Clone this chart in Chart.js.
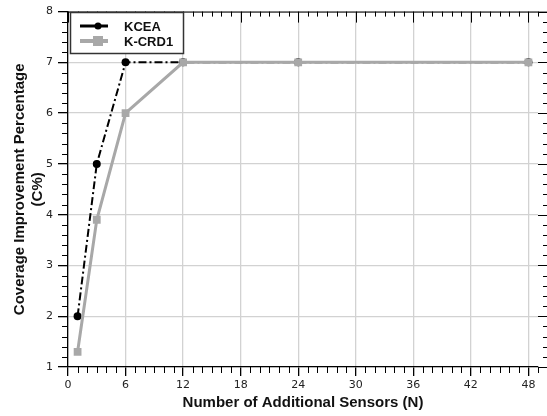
<!DOCTYPE html>
<html><head><meta charset="utf-8">
<script src="https://cdn.jsdelivr.net/npm/chart.js@4/dist/chart.umd.min.js"></script>
<style>html,body{margin:0;padding:0;background:#fff}#wrap{width:547px;height:416px}</style>
</head><body><div id="wrap"><canvas id="c" width="547" height="416"></canvas></div>
<script>
const sensorsKCEA = [1, 3, 6, 12, 24, 48];
const valuesKCEA = [2, 5, 7, 7, 7, 7];
const sensorsKCRD1 = [1, 3, 6, 12, 24, 48];
const valuesKCRD1 = [1.3, 3.9, 6, 7, 7, 7];
const xTicks = [0, 6, 12, 18, 24, 30, 36, 42, 48];
const yTicks = [1, 2, 3, 4, 5, 6, 7, 8];
const seriesNames = ["KCEA", "K-CRD1"];

const GRAY = '#a8a8a8';

const framePlugin = {
  id: 'frame',
  afterDraw(chart) {
    const ctx = chart.ctx, a = chart.chartArea;
    const xs = chart.scales.x, ys = chart.scales.y;
    ctx.save();
    ctx.strokeStyle = '#000';
    ctx.lineWidth = 1;
    ctx.beginPath();
    ctx.moveTo(a.left, a.top + 0.5); ctx.lineTo(547, a.top + 0.5);
    ctx.stroke();
    ctx.beginPath();
    for (let v = 0; v <= 49; v++) {
      const px = Math.round(xs.getPixelForValue(v)) + 0.5;
      const major = v % 6 === 0;
      if (!major) { ctx.moveTo(px, a.bottom); ctx.lineTo(px, a.bottom + 6); }
      ctx.moveTo(px, a.top); ctx.lineTo(px, a.top + (major ? 11 : 5));
    }
    for (let v = 1; v <= 8.0001; v += 0.2) {
      const py = Math.round(ys.getPixelForValue(v)) + 0.5;
      const major = Math.abs(v - Math.round(v)) < 0.01;
      if (!major) { ctx.moveTo(a.left - 6, py); ctx.lineTo(a.left, py); }
      ctx.moveTo(a.right + (major ? 0 : 5), py); ctx.lineTo(a.right + 9, py);
    }
    ctx.stroke();
    // legend
    const lx = 70.5, ly = 12.5, lw = 113, lh = 41;
    ctx.fillStyle = '#fff';
    ctx.fillRect(lx, ly, lw, lh);
    ctx.strokeStyle = '#333';
    ctx.lineWidth = 1.5;
    ctx.strokeRect(lx, ly, lw, lh);
    const ds = chart.data.datasets;
    const rows = [26, 41];
    ds.forEach((d, i) => {
      const y = rows[i];
      ctx.strokeStyle = d.borderColor;
      ctx.lineWidth = i === 0 ? 3 : 4;
      ctx.setLineDash([]);
      ctx.beginPath(); ctx.moveTo(80, y); ctx.lineTo(108, y); ctx.stroke();
      ctx.fillStyle = d.pointBackgroundColor;
      if (i === 0) { ctx.beginPath(); ctx.arc(98, y, 3.5, 0, Math.PI * 2); ctx.fill(); }
      else { ctx.fillRect(93, y - 5, 10, 10); }
      ctx.fillStyle = '#111';
      ctx.font = 'bold 13px "Liberation Sans", Arial, sans-serif';
      ctx.textBaseline = 'middle';
      ctx.fillText(d.label, 124, y + 1);
    });
    ctx.restore();
  }
};

new Chart(document.getElementById('c'), {
  type: 'line',
  data: {
    datasets: [
      {
        label: seriesNames[0],
        data: sensorsKCEA.map((x, i) => ({ x, y: valuesKCEA[i] })),
        borderColor: '#000', backgroundColor: '#000',
        pointBackgroundColor: '#000', pointBorderColor: '#000',
        borderWidth: 2, borderDash: [8, 3, 2, 3],
        pointStyle: 'circle', pointRadius: 4, pointBorderWidth: 0,
        tension: 0, order: 1
      },
      {
        label: seriesNames[1],
        data: sensorsKCRD1.map((x, i) => ({ x, y: valuesKCRD1[i] })),
        borderColor: GRAY, backgroundColor: GRAY,
        pointBackgroundColor: GRAY, pointBorderColor: GRAY,
        borderWidth: 3,
        pointStyle: 'rect', pointRadius: 5.5, pointBorderWidth: 0,
        tension: 0, order: 0
      }
    ]
  },
  plugins: [framePlugin],
  options: {
    responsive: false, animation: false,
    layout: { padding: { top: 8, right: 9, left: 0, bottom: 0 } },
    plugins: { legend: { display: false }, tooltip: { enabled: false } },
    scales: {
      x: {
        type: 'linear', min: 0, max: 49,
        afterFit(s) { s.height = 49; },
        afterBuildTicks(s) { s.ticks = xTicks.map(v => ({ value: v })); },
        ticks: { color: '#222', font: { family: 'DejaVu Sans', size: 11 }, padding: 3, maxRotation: 0, includeBounds: false },
        grid: { color: '#d2d2d2', lineWidth: 1.3, tickColor: '#000', tickLength: 9 },
        border: { display: true, color: '#000', width: 1.3 },
        title: { display: true, text: 'Number of Additional Sensors (N)', color: '#111',
          font: { family: 'Liberation Sans', weight: 'bold', size: 15, lineHeight: 1.2 }, padding: { top: 0, bottom: 4 } }
      },
      y: {
        type: 'linear', min: 1, max: 8,
        afterFit(s) { s.width = 68; },
        afterBuildTicks(s) { s.ticks = yTicks.map(v => ({ value: v })); },
        ticks: { color: '#222', font: { family: 'DejaVu Sans', size: 11 }, padding: 5 },
        grid: { color: '#d2d2d2', lineWidth: 1.3, tickColor: '#000', tickLength: 10 },
        border: { display: true, color: '#000', width: 1.3 },
        title: { display: true, text: ['Coverage Improvement Percentage', '(C%)'], color: '#111',
          font: { family: 'Liberation Sans', weight: 'bold', size: 15, lineHeight: 1.2 }, padding: { top: 11, bottom: 0 } }
      }
    }
  }
});
</script></body></html>
